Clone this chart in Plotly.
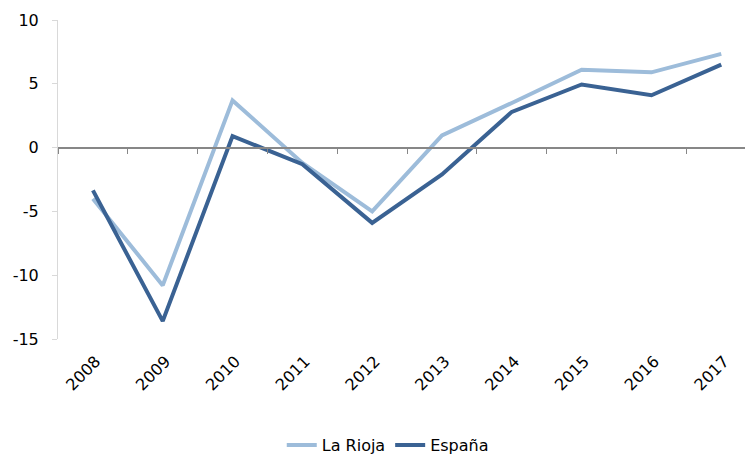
import plotly.graph_objects as go

years = ['2008', '2009', '2010', '2011', '2012', '2013', '2014', '2015', '2016', '2017']
la_rioja = [-4.0, -10.8, 3.7, -1.2, -5.0, 0.95, 3.5, 6.1, 5.9, 7.35]
espana = [-3.35, -13.6, 0.9, -1.3, -5.9, -2.1, 2.8, 4.95, 4.1, 6.5]

y_ticks = [-15, -10, -5, 0, 5, 10]
y_labels = ['-15', '-10', '-5', '0', '5', '10']

c_rioja = '#9dbcda'
c_espana = '#3a6293'

fig = go.Figure()
fig.add_trace(go.Scatter(x=years, y=la_rioja, name='La Rioja', mode='lines',
                         line=dict(color=c_rioja, width=4)))
fig.add_trace(go.Scatter(x=years, y=espana, name='España', mode='lines',
                         line=dict(color=c_espana, width=4)))
# dummy trace so the second x axis (tick marks on the zero line) is drawn
fig.add_trace(go.Scatter(x=years, y=[None] * len(years), xaxis='x2',
                         showlegend=False, hoverinfo='skip'))

fig.update_layout(
    width=745, height=462,
    margin=dict(l=58, r=0, t=20, b=114),
    paper_bgcolor='white', plot_bgcolor='white',
    font=dict(family='DejaVu Sans', color='#000000'),
    showlegend=True,
    legend=dict(orientation='h', x=0.48, xanchor='center', y=-0.28, yanchor='top',
                font=dict(size=16), itemwidth=30, tracegroupgap=0),
    xaxis=dict(type='category', range=[-0.5, 9.34], showline=False, ticks='',
               showgrid=False, tickangle=-45, tickfont=dict(size=16),
               ticklabelstandoff=9, ticklabelshift=3, automargin=False),
    xaxis2=dict(type='category', overlaying='x', matches='x', anchor='free',
                position=0.6, side='bottom', showline=True, linecolor='#878787',
                linewidth=2, ticks='outside', tickson='boundaries', ticklen=5,
                tickcolor='#878787', tickwidth=1, showticklabels=False,
                showgrid=False, automargin=False),
    yaxis=dict(range=[-15, 10], tickvals=y_ticks, ticktext=y_labels,
               showgrid=False, zeroline=False,
               showline=True, linecolor='#d9d9d9', linewidth=1,
               ticks='outside', ticklen=5, tickcolor='#d9d9d9',
               tickfont=dict(size=16), ticklabelstandoff=10, automargin=False),
)

# drop the default 8px body margin so the figure fills the window exactly
js = "document.body.style.margin = '0'; document.documentElement.style.overflow = 'hidden';"
fig.write_html("out.html", post_script=js, config={'displayModeBar': False})
